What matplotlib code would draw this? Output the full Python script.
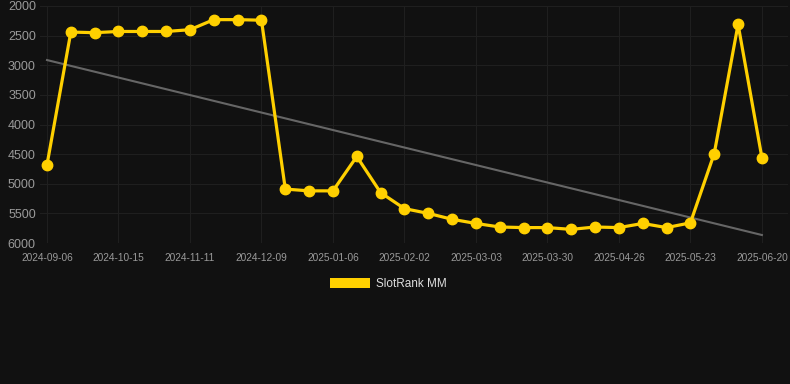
import numpy as np
import matplotlib
matplotlib.use('Agg')
import matplotlib.pyplot as plt
from matplotlib.patches import Patch

plt.rcParams['font.family'] = ['Liberation Sans', 'DejaVu Sans']

# Datos (rango SlotRank, eje invertido)
tick_labels = ['2024-09-06', '2024-10-15', '2024-11-11', '2024-12-09', '2025-01-06',
               '2025-02-02', '2025-03-03', '2025-03-30', '2025-04-26', '2025-05-23',
               '2025-06-20']
rank = [4680, 2440, 2450, 2430, 2430, 2430, 2400, 2230, 2230, 2240,
        5090, 5120, 5120, 4540, 5150, 5420, 5500, 5600, 5670, 5730,
        5740, 5740, 5770, 5730, 5740, 5670, 5740, 5660, 4490, 2310,
        4560]
series_name = 'SlotRank MM'

bg = '#111111'
gold = '#FFD000'

fig = plt.figure(figsize=(7.9, 3.84), dpi=100, facecolor=bg)
ax = fig.add_axes([40 / 790, 1 - 243 / 384, 748 / 790, 237 / 384])
ax.set_facecolor(bg)

x = np.arange(len(rank))

# Linea de tendencia (regresion lineal)
coef = np.polyfit(x, rank, 1)
ax.plot([x[0], x[-1]], np.polyval(coef, [x[0], x[-1]]), color='#666666', lw=1.5, zorder=2)

ax.plot(x, rank, color=gold, lw=2.3, marker='o', markersize=7.5, zorder=3)

ax.set_xlim(-7 / 23.83, (788 - 47) / 23.83)
ax.set_ylim(6000, 2000)
ax.set_yticks(range(2000, 6001, 500))
ax.set_xticks(x[::3])
ax.set_xticklabels(tick_labels)

ax.grid(True, color='#1f1f1f', lw=0.8)
for s in ax.spines.values():
    s.set_visible(False)
ax.tick_params(axis='both', length=0, colors='#9a9a9a')
ax.tick_params(axis='y', labelsize=9, pad=3)
ax.tick_params(axis='x', labelsize=7.3, pad=7)

leg = fig.legend(handles=[Patch(facecolor=gold, edgecolor='none', label=series_name)],
                 loc='center', bbox_to_anchor=(0.492, 1 - 284 / 384), frameon=False,
                 fontsize=8.5, handlelength=3.4, handleheight=1.0, handletextpad=0.5)
for t in leg.get_texts():
    t.set_color('#dddddd')

fig.savefig('out.png', dpi=100, facecolor=bg)
